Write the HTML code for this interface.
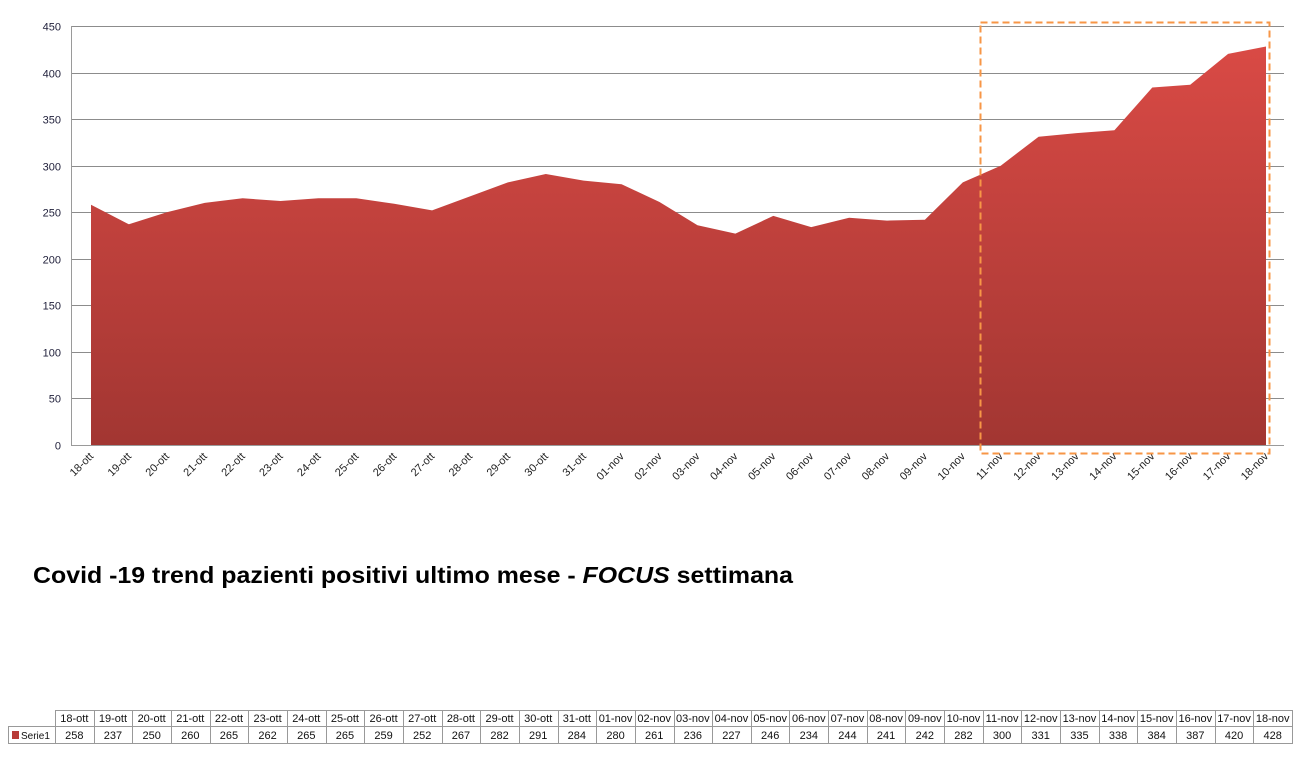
<!DOCTYPE html>
<html><head><meta charset="utf-8"><style>
body{margin:0;background:#fff;width:1300px;height:758px;overflow:hidden;font-family:"Liberation Sans",sans-serif}
</style></head><body>
<svg width="1300" height="758" xmlns="http://www.w3.org/2000/svg" font-family="Liberation Sans, sans-serif">
<defs><linearGradient id="g" x1="0" y1="0" x2="0" y2="1">
<stop offset="0" stop-color="#d94a45"/><stop offset="1" stop-color="#a23632"/></linearGradient></defs>
<g id="grid" stroke="#8c8c8c" stroke-width="1"></g>
<g id="area"></g>
<g id="ylab" font-size="11" fill="#1f1f3a" text-anchor="end"></g>
<g id="xlab" font-size="11" fill="#222"></g>
<rect x="980.5" y="22.5" width="289" height="431" fill="none" stroke="#f79646" stroke-width="2" stroke-dasharray="7,4"/>
<text x="33" y="583" font-size="23" font-weight="bold" fill="#000" textLength="760" lengthAdjust="spacingAndGlyphs">Covid -19 trend pazienti positivi ultimo mese - <tspan font-style="italic">FOCUS</tspan> settimana</text>
<g id="table" font-size="11" fill="#111"></g>
</svg>
<script>
const d=[258,237,250,260,265,262,265,265,259,252,267,282,291,284,280,261,236,227,246,234,244,241,242,282,300,331,335,338,384,387,420,428];
const lab=[];for(let i=18;i<=31;i++)lab.push(i+'-ott');for(let i=1;i<=18;i++)lab.push(String(i).padStart(2,'0')+'-nov');
const ns='http://www.w3.org/2000/svg';
function el(t,a,p,txt){const e=document.createElementNS(ns,t);for(const k in a)e.setAttribute(k,a[k]);if(txt!==undefined)e.textContent=txt;p.appendChild(e);return e;}
const Y=v=>445-v*419/450, X=i=>91+i*(1175/31);
const grid=document.getElementById('grid'),yl=document.getElementById('ylab');
for(let v=0;v<=450;v+=50){const y=Math.round(Y(v))+0.5;el('line',{x1:71,x2:1284,y1:y,y2:y,stroke:v==0?'#9a9a9a':'#8c8c8c'},grid);el('text',{x:61,y:y+4},yl,v);}
el('line',{x1:71.5,x2:71.5,y1:26,y2:446,stroke:'#9a9a9a'},grid);
let p='M'+X(0)+',445';d.forEach((v,i)=>p+=' L'+X(i).toFixed(1)+','+Y(v).toFixed(1));p+=' L'+X(31)+',445Z';
el('path',{d:p,fill:'url(#g)'},document.getElementById('area'));
const xl=document.getElementById('xlab');
lab.forEach((l,i)=>{const x=X(i)+3,y=457;el('text',{x:x,y:y,'text-anchor':'end',transform:`rotate(-45 ${x} ${y})`},xl,l);});
const tb=document.getElementById('table');const x0=55,w=(1292-55)/32;
el('rect',{x:x0+.5,y:710.5,width:1237,height:33,fill:'none',stroke:'#999'},tb);
el('rect',{x:8.5,y:726.5,width:47,height:17,fill:'none',stroke:'#999'},tb);
el('line',{x1:x0,x2:1292,y1:726.5,y2:726.5,stroke:'#999'},tb);
el('rect',{x:12,y:731,width:7,height:8,fill:'#b83b37'},tb);
el('text',{x:21,y:739,'font-size':10},tb,'Serie1');
lab.forEach((l,i)=>{const x=x0+i*w;if(i>0)el('line',{x1:Math.round(x)+.5,x2:Math.round(x)+.5,y1:710,y2:744,stroke:'#999'},tb);
el('text',{x:x+w/2,y:722,'text-anchor':'middle'},tb,l);el('text',{x:x+w/2,y:739,'text-anchor':'middle'},tb,d[i]);});
</script>
</body></html>
